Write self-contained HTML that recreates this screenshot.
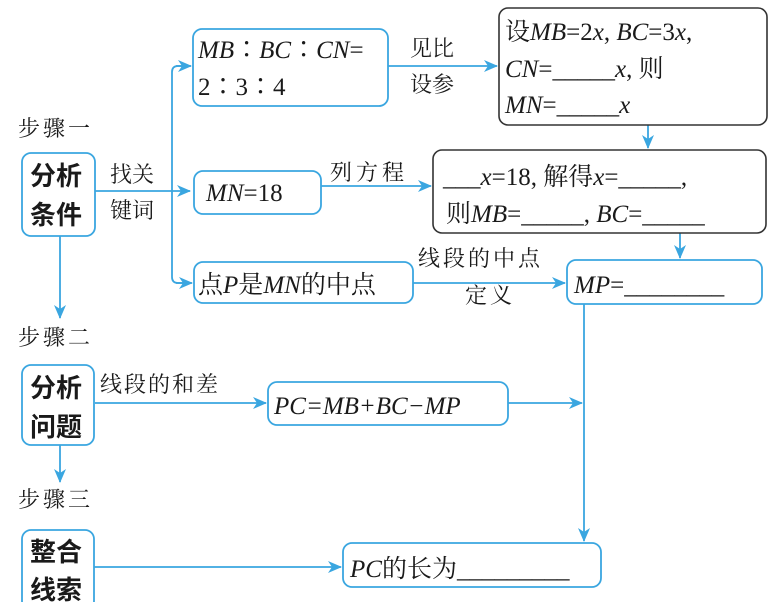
<!DOCTYPE html>
<html><head><meta charset="utf-8"><style>
body{margin:0;background:#fff;}
svg{display:block;}
text{font-family:"Liberation Serif","Noto Serif CJK SC",serif;fill:#1a1a1a;}
.i{font-style:italic;}
.b{font-family:"Liberation Sans","Noto Sans CJK SC",sans-serif;font-weight:bold;}
</style></head><body>
<svg width="776" height="602" viewBox="0 0 776 602" xmlns="http://www.w3.org/2000/svg">
<defs><marker id="a" markerWidth="14" markerHeight="12" refX="13" refY="6" orient="auto" markerUnits="userSpaceOnUse"><path d="M0,0 L14,6 L0,12 L4,6Z" fill="#3aa6e0"/></marker></defs>
<g fill="none" stroke="#3aa6e0" stroke-width="1.8">
<rect x="193" y="29" width="195" height="77" rx="9"/>
<rect x="194" y="171" width="127" height="43" rx="9"/>
<rect x="194" y="262" width="219" height="41" rx="9"/>
<rect x="567" y="260" width="195" height="44" rx="9"/>
<rect x="22" y="153" width="73" height="83" rx="9"/>
<rect x="22" y="365" width="72" height="80" rx="9"/>
<rect x="22" y="530" width="72" height="80" rx="9"/>
<rect x="268" y="382" width="240" height="43" rx="9"/>
<rect x="343" y="543" width="258" height="44" rx="9"/>
<path d="M95 191 H190" marker-end="url(#a)"/>
<path d="M190 66 H178 Q172 66 172 72 V277 Q172 283 178 283 H191" />
<path d="M176 66 H191" marker-end="url(#a)"/>
<path d="M176 283 H192" marker-end="url(#a)"/>
<path d="M388 66 H497" marker-end="url(#a)"/>
<path d="M321 186 H431" marker-end="url(#a)"/>
<path d="M648 125 V148" marker-end="url(#a)"/>
<path d="M680 233 V258" marker-end="url(#a)"/>
<path d="M413 283 H565" marker-end="url(#a)"/>
<path d="M584 304 V541" marker-end="url(#a)"/>
<path d="M508 403 H582" marker-end="url(#a)"/>
<path d="M95 403 H266" marker-end="url(#a)"/>
<path d="M94 567 H341" marker-end="url(#a)"/>
<path d="M60 236 V318" marker-end="url(#a)"/>
<path d="M60 445 V482" marker-end="url(#a)"/>
</g>
<g fill="none" stroke="#333" stroke-width="1.6">
<rect x="499" y="8" width="268" height="117" rx="9"/>
<rect x="433" y="150" width="333" height="83" rx="9"/>
</g>
<g font-size="25">
<text x="198" y="58"><tspan class="i">MB</tspan>∶<tspan class="i">BC</tspan>∶<tspan class="i">CN</tspan>=</text>
<text x="198" y="95">2∶3∶4</text>
<text x="206" y="201"><tspan class="i">MN</tspan>=18</text>
<text x="198" y="293">点<tspan class="i">P</tspan>是<tspan class="i">MN</tspan>的中点</text>
<text x="574" y="293"><tspan class="i">MP</tspan>=<tspan>________</tspan></text>
<text x="505" y="40">设<tspan class="i">MB</tspan>=2<tspan class="i">x</tspan>, <tspan class="i">BC</tspan>=3<tspan class="i">x</tspan>,</text>
<text x="505" y="77"><tspan class="i">CN</tspan>=_____<tspan class="i">x</tspan>, 则</text>
<text x="505" y="113"><tspan class="i">MN</tspan>=_____<tspan class="i">x</tspan></text>
<text x="443" y="185">___<tspan class="i">x</tspan>=18, 解得<tspan class="i">x</tspan>=_____,</text>
<text x="446" y="222">则<tspan class="i">MB</tspan>=_____, <tspan class="i">BC</tspan>=_____</text>
<text x="274" y="414" class="i">PC=MB+BC−MP</text>
<text x="350" y="577"><tspan class="i">PC</tspan>的长为_________</text>
</g>
<g font-size="22">
<text x="410" y="56">见比</text>
<text x="410" y="92">设参</text>
<text x="110" y="182">找关</text>
<text x="110" y="218">键词</text>
<text x="330" y="180" letter-spacing="4">列方程</text>
<text x="418" y="266" letter-spacing="3">线段的中点</text>
<text x="465" y="303" letter-spacing="3">定义</text>
<text x="100" y="392" letter-spacing="2">线段的和差</text>
<text x="18" y="136" letter-spacing="3">步骤一</text>
<text x="18" y="345" letter-spacing="3">步骤二</text>
<text x="18" y="507" letter-spacing="3">步骤三</text>
</g>
<g font-size="26">
<text x="30" y="185" class="b">分析</text>
<text x="30" y="224" class="b">条件</text>
<text x="30" y="397" class="b">分析</text>
<text x="30" y="436" class="b">问题</text>
<text x="30" y="561" class="b">整合</text>
<text x="30" y="599" class="b">线索</text>
</g>
</svg>
</body></html>
